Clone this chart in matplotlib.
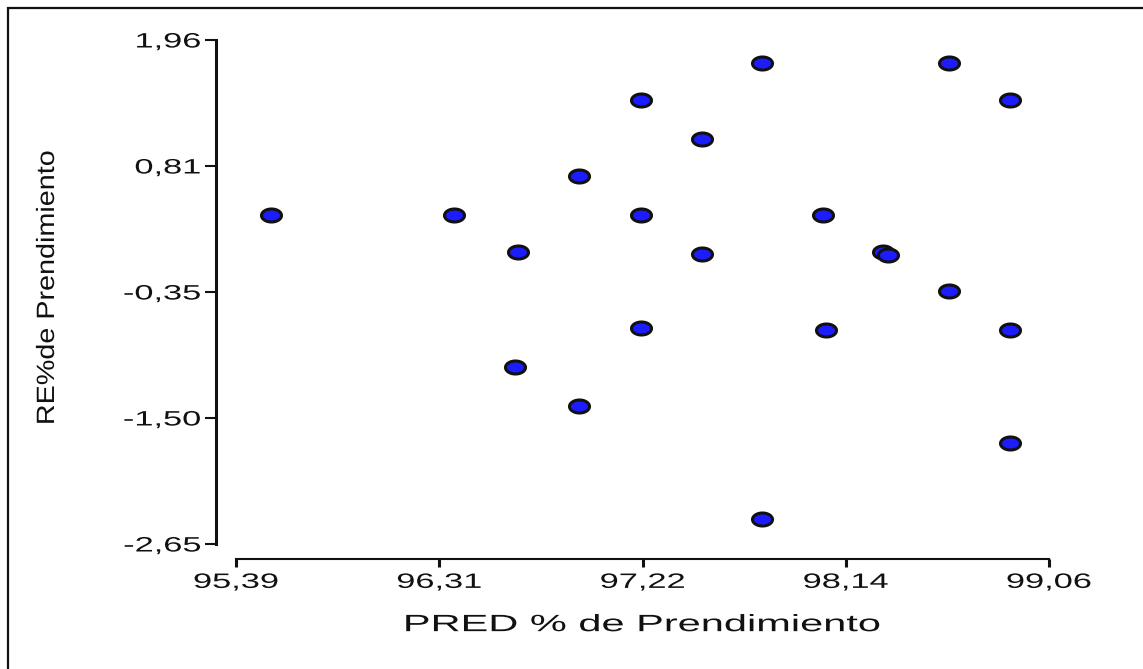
import matplotlib
matplotlib.use("Agg")
import matplotlib.pyplot as plt
import numpy as np
from matplotlib.path import Path
from matplotlib.patches import Rectangle
from matplotlib.transforms import Affine2D
from matplotlib.patheffects import AbstractPathEffect

pred = [95.548, 96.374, 96.663, 96.649, 96.938, 96.938, 97.218, 97.218, 97.218,
        97.494, 97.494, 97.764, 97.764, 98.040, 98.053, 98.311, 98.333, 98.609,
        98.609, 98.884, 98.884, 98.884]
resid = [0.359, 0.359, 0.021, -1.031, 0.716, -1.388, 1.411, 0.359, -0.674,
         1.054, 0.003, 1.750, -2.421, 0.359, -0.693, 0.021, -0.007, 1.750,
         -0.336, 1.411, -0.693, -1.726]

xticks = [95.39, 96.3075, 97.225, 98.1425, 99.06]
xtick_labels = ["95,39", "96,31", "97,22", "98,14", "99,06"]
yticks = [-2.65, -1.4975, -0.345, 0.8075, 1.96]
ytick_labels = ["-2,65", "-1,50", "-0,35", "0,81", "1,96"]


class Stretch(AbstractPathEffect):
    """widen glyphs along the baseline, keeping one edge (or the centre) fixed"""

    def __init__(self, sx=1.0, sy=1.0, anchor="center"):
        super().__init__()
        self.sx = sx
        self.sy = sy
        self.anchor = anchor

    def draw_path(self, renderer, gc, tpath, affine, rgbFace=None):
        ext = tpath.get_extents()
        if self.anchor == "right":
            cx = ext.x1
        elif self.anchor == "left":
            cx = ext.x0
        else:
            cx = (ext.x0 + ext.x1) / 2
        cy = (ext.y0 + ext.y1) / 2
        t = Affine2D().translate(-cx, -cy).scale(self.sx, self.sy).translate(cx, cy) + affine
        renderer.draw_path(gc, tpath, t, rgbFace)


plt.rcParams["font.family"] = ["Liberation Sans", "DejaVu Sans"]

W, H = 1143, 669
fig = plt.figure(figsize=(W / 100, H / 100), dpi=100)
ax = fig.add_axes([236 / W, 1 - 544 / H, 813 / W, 504 / H])

# flattened ellipse marker
theta = np.linspace(0, 2 * np.pi, 60)
ell = Path(np.column_stack([np.cos(theta), 0.65 * np.sin(theta)]), closed=True)

ax.plot(pred, resid, linestyle="none", marker=ell, markersize=14.4,
        markerfacecolor="#1c1cff", markeredgecolor="#111111", markeredgewidth=2.2,
        clip_on=False, zorder=3)

ax.set_xlim(95.39, 99.06)
ax.set_ylim(-2.65, 1.96)

for s in ["top", "right"]:
    ax.spines[s].set_visible(False)
ax.spines["left"].set_position(("outward", 14.4))
ax.spines["bottom"].set_position(("outward", 10.8))
ax.spines["left"].set_bounds(-2.65, 1.96)
ax.spines["bottom"].set_bounds(95.39, 99.06)
ax.spines["left"].set_linewidth(2.2)
ax.spines["bottom"].set_linewidth(1.5)
ax.spines["left"].set_color("#111111")
ax.spines["bottom"].set_color("#111111")

ax.set_xticks(xticks)
ax.set_xticklabels(xtick_labels)
ax.set_yticks(yticks)
ax.set_yticklabels(ytick_labels)
ax.tick_params(axis="x", direction="out", length=5.5, width=2.2, pad=4.5,
               labelsize=15, colors="#111111")
ax.tick_params(axis="y", direction="out", length=8, width=1.5, pad=3,
               labelsize=15, colors="#111111")
for lab in ax.get_xticklabels():
    lab.set_path_effects([Stretch(1.65, 1.0, "center")])
for lab in ax.get_yticklabels():
    lab.set_path_effects([Stretch(1.65, 1.0, "right")])

ax.set_xlabel("PRED % de Prendimiento", fontsize=17, color="#111111")
ax.xaxis.set_label_coords(0.5, -0.161)
ax.xaxis.label.set_va("center")
ax.xaxis.label.set_path_effects([Stretch(1.76, 1.0, "center")])

ax.set_ylabel("RE%de Prendimiento", fontsize=18, color="#111111")
ax.yaxis.set_label_coords(-0.2325, 0.508)
ax.yaxis.label.set_va("center")
ax.yaxis.label.set_path_effects([Stretch(1.15, 1.0, "center")])

# outer frame line along top and left edges
fig.patches.append(Rectangle((8 / W, -0.5), 2, 1.5 - 8 / H, transform=fig.transFigure,
                             fill=False, edgecolor="#111111", linewidth=1.6))

fig.savefig("out.png", dpi=100)
